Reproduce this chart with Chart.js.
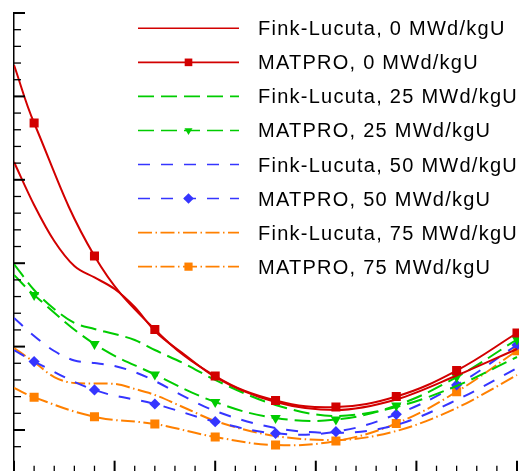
<!DOCTYPE html>
<html>
<head>
<meta charset="utf-8">
<script src="https://cdn.jsdelivr.net/npm/chart.js@4.4.1/dist/chart.umd.min.js"></script>
<style>
  html, body { margin: 0; padding: 0; background: #fff; overflow: hidden; }
  #wrap { position: absolute; left: 0; top: 0; width: 570px; height: 490px; }
</style>
</head>
<body>
<div id="wrap"><canvas id="chart" width="570" height="490"></canvas></div>
<script>
// DATA (axis has no labels)

// temperatures where the MATPRO markers sit (first value = start of the line)
const tempMatpro = [0, 100, 400, 700, 1000, 1300, 1600, 1900, 2200, 2500];
const matpro0  = [6.377, 5.681, 4.086, 3.205, 2.647, 2.354, 2.276, 2.402, 2.713, 3.163];
const matpro25 = [3.859, 3.619, 3.031, 2.665, 2.336, 2.144, 2.126, 2.294, 2.635, 3.085];
const matpro50 = [2.959, 2.821, 2.480, 2.312, 2.100, 1.960, 1.980, 2.188, 2.540, 3.019];
const matpro75 = [2.504, 2.392, 2.159, 2.072, 1.916, 1.820, 1.868, 2.078, 2.459, 2.951];

// Fink-Lucuta curves, read at these temperatures
const tempFink = [0, 100, 200, 300, 400, 500, 600, 700, 850, 1000, 1300, 1600, 1900, 2200, 2500];
const fink0  = [5.213, 4.698, 4.266, 3.966, 3.829, 3.691, 3.475, 3.187, 2.899, 2.635, 2.336, 2.240, 2.366, 2.653, 2.971];
const fink25 = [3.990, 3.679, 3.451, 3.283, 3.211, 3.151, 3.079, 2.959, 2.791, 2.600, 2.300, 2.168, 2.276, 2.528, 2.875];
const fink50 = [3.343, 3.127, 2.947, 2.833, 2.803, 2.767, 2.695, 2.588, 2.396, 2.228, 2.024, 1.964, 2.060, 2.360, 2.743];
const fink75 = [2.983, 2.815, 2.635, 2.564, 2.558, 2.552, 2.492, 2.420, 2.264, 2.108, 1.928, 1.880, 1.988, 2.264, 2.659];

const labels = [
  'Fink-Lucuta, 0 MWd/kgU',
  'MATPRO, 0 MWd/kgU',
  'Fink-Lucuta, 25 MWd/kgU',
  'MATPRO, 25 MWd/kgU',
  'Fink-Lucuta, 50 MWd/kgU',
  'MATPRO, 50 MWd/kgU',
  'Fink-Lucuta, 75 MWd/kgU',
  'MATPRO, 75 MWd/kgU'
];

// STYLES

var redCol = '#d20000';
var greenCol = '#00cc00';
var blueCol = '#3535ff';
var orangeCol = '#ff8000';

var dash25 = [16, 7];
var dash50 = [12, 11];
var dash75 = [14, 3.5, 1.5, 3.5];

function pts(xs, ys) {
    return xs.map((x, i) => ({x: x, y: ys[i]}));
}

// no marker on the first point (line start at the axis)
function markerRadius(r) {
    return function(ctx) {
        return ctx.raw && ctx.raw.x === 0 ? 0 : r;
    };
}

function finkSet(label, data, col, dash) {
    return {
        label: label,
        data: pts(tempFink, data),
        borderColor: col,
        backgroundColor: col,
        borderWidth: 2,
        borderDash: dash,
        pointRadius: 0,
        cubicInterpolationMode: 'monotone',
        fill: false,
        legendRadius: 0,
    };
}

function matproSet(label, data, col, dash, style, r, rot, lr) {
    return {
        label: label,
        data: pts(tempMatpro, data),
        borderColor: col,
        backgroundColor: col,
        borderWidth: 2,
        borderDash: dash,
        pointStyle: style,
        pointRotation: rot,
        pointRadius: markerRadius(r),
        pointBorderWidth: 0,
        pointBackgroundColor: col,
        tension: 0.4,
        fill: false,
        legendRadius: lr,
    };
}

// tick marks pointing into the plot, long ones on the major values
const tickMarks = {
    id: 'tickMarks',
    afterDraw(chart) {
        const ctx = chart.ctx;
        const area = chart.chartArea;
        const xs = chart.scales.x;
        const ys = chart.scales.y;
        ctx.save();
        ctx.strokeStyle = '#000';
        ys.ticks.forEach(t => {
            const major = Math.abs(t.value - Math.round(t.value)) < 1e-6;
            const py = ys.getPixelForValue(t.value);
            ctx.lineWidth = major ? 2 : 1.3;
            ctx.beginPath();
            ctx.moveTo(area.left, py);
            ctx.lineTo(area.left + (major ? 11 : 7), py);
            ctx.stroke();
        });
        xs.ticks.forEach(t => {
            const major = Math.round(t.value) % 500 === 0;
            const px = xs.getPixelForValue(t.value);
            ctx.lineWidth = major ? 2 : 1.3;
            ctx.beginPath();
            ctx.moveTo(px, area.bottom);
            ctx.lineTo(px, area.bottom - (major ? 11 : 6));
            ctx.stroke();
        });
        ctx.restore();
    }
};

// legend inside the plot: line sample with the marker in the middle
const lineLegend = {
    id: 'lineLegend',
    afterDraw(chart) {
        const ctx = chart.ctx;
        const x1 = 138, x2 = 239, textX = 258;
        const top = 28.3, step = 34.05;
        ctx.save();
        chart.data.datasets.forEach((ds, i) => {
            const y = top + i * step;
            ctx.strokeStyle = ds.borderColor;
            ctx.lineWidth = 1.6;
            ctx.setLineDash(ds.borderDash || []);
            ctx.beginPath();
            ctx.moveTo(x1, y);
            ctx.lineTo(x2, y);
            ctx.stroke();
            ctx.setLineDash([]);
            if (ds.legendRadius) {
                ctx.fillStyle = ds.borderColor;
                Chart.helpers.drawPoint(ctx, {
                    pointStyle: ds.pointStyle,
                    radius: ds.legendRadius,
                    rotation: ds.pointRotation || 0,
                    borderWidth: 0
                }, (x1 + x2) / 2, y);
            }
            ctx.fillStyle = '#000';
            ctx.font = '20px "Liberation Sans", Arial, sans-serif';
            ctx.letterSpacing = '1.25px';
            ctx.textBaseline = 'alphabetic';
            ctx.fillText(ds.label, textX, y + 7);
        });
        ctx.restore();
    }
};

const ctx = document.getElementById('chart').getContext('2d');
const myChart = new Chart(ctx, {
    type: 'line',
    data: {
        datasets: [
            finkSet(labels[0], fink0, redCol, []),
            matproSet(labels[1], matpro0, redCol, [], 'rect', 6.4, 0, 5.4),
            finkSet(labels[2], fink25, greenCol, dash25),
            matproSet(labels[3], matpro25, greenCol, dash25, 'triangle', 6, 180, 4.6),
            finkSet(labels[4], fink50, blueCol, dash50),
            matproSet(labels[5], matpro50, blueCol, dash50, 'rectRot', 5.6, 0, 5.3),
            finkSet(labels[6], fink75, orangeCol, dash75),
            matproSet(labels[7], matpro75, orangeCol, dash75, 'rect', 6.4, 0, 5.8),
        ]
    },
    options: {
        responsive: false,
        animation: false,
        devicePixelRatio: 1,
        layout: {
            padding: {left: 14, top: 13, right: 12.76, bottom: 18.3}
        },
        scales: {
            x: {
                type: 'linear',
                min: 0,
                max: 2700,
                display: true,
                grid: {display: false, drawTicks: false},
                border: {display: false},
                ticks: {display: false, stepSize: 100},
            },
            y: {
                min: 1.5,
                max: 7,
                grid: {display: false, drawTicks: false},
                border: {display: true, color: '#000', width: 1.5},
                ticks: {display: false, stepSize: 0.2},
            }
        },
        plugins: {
            legend: {display: false},
            tooltip: {enabled: false},
        }
    },
    plugins: [tickMarks, lineLegend]
});
</script>
</body>
</html>
